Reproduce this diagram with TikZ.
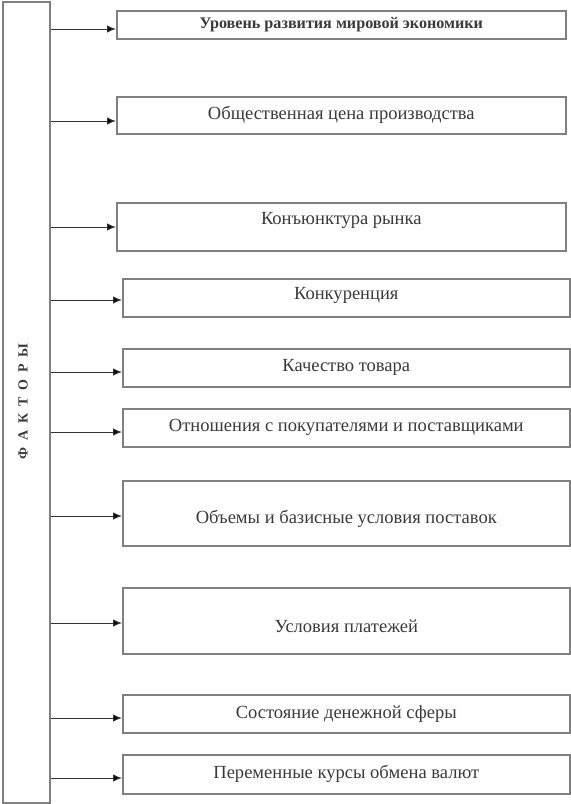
\documentclass[tikz,border=0pt]{standalone}
\usepackage{fontspec}
\setmainfont{Liberation Serif}
\usetikzlibrary{arrows.meta,calc}
\definecolor{linegray}{HTML}{808080}
\definecolor{txtgray}{HTML}{3A3A3A}
\newcommand{\shiftedtext}[2]{\raisebox{#1}[\height][\depth]{#2}}
\tikzset{
  fbox/.style={draw=linegray, line width=1.6pt, rectangle, inner sep=0pt, text=txtgray,
    font=\fontsize{18.6}{20}\selectfont, anchor=north west},
  arr/.style={draw=black!80, line width=1pt, -{Latex[length=9pt,width=7.5pt,fill=black]}},
}
\begin{document}
\begin{tikzpicture}[x=1bp,y=-1bp]
\useasboundingbox (0,0) rectangle (571,804);
\fill[white] (0,0) rectangle (571,804);
\node[draw=linegray, line width=1.6pt, rectangle, inner sep=0pt, minimum width=47bp, minimum height=801bp, anchor=north west] (L) at (2,1) {};
\node[rotate=90, text=txtgray, font=\bfseries\fontsize{14}{16}\selectfont] (Ltxt) at (23,401.5) {Ф\ \ А\ \ К\ \ Т\ \ О\ \ Р\ \ Ы};
% boxes
\node[fbox, minimum width=449bp, minimum height=28bp, font=\bfseries\fontsize{16.2}{18}\selectfont] (b1) at (116,10) {Уровень развития мировой экономики};
\node[fbox, minimum width=449bp, minimum height=37bp] (b2) at (116,96) {Общественная цена производства};
\node[fbox, minimum width=449bp, minimum height=48bp] (b3) at (116,202) {\shiftedtext{6bp}{Конъюнктура рынка}};
\node[fbox, minimum width=447bp, minimum height=38bp] (b4) at (122,278) {\shiftedtext{2bp}{Конкуренция}};
\node[fbox, minimum width=447bp, minimum height=38bp] (b5) at (122,348) {Качество товара};
\node[fbox, minimum width=447bp, minimum height=38bp] (b6) at (122,408) {Отношения с покупателями и поставщиками};
\node[fbox, minimum width=447bp, minimum height=65bp] (b7) at (122,480) {\shiftedtext{-6bp}{Объемы и базисные условия поставок}};
\node[fbox, minimum width=447bp, minimum height=66bp] (b8) at (122,587) {\shiftedtext{-5bp}{Условия платежей}};
\node[fbox, minimum width=447bp, minimum height=38bp] (b9) at (122,694) {Состояние денежной сферы};
\node[fbox, minimum width=447bp, minimum height=39bp] (b10) at (122,754) {Переменные курсы обмена валют};
% arrows
\foreach \b/\y in {b1/29,b2/121,b3/227,b4/300,b5/372,b6/432,b7/516,b8/623,b9/718,b10/778}{
  \draw[arr] (L.east |- 0,\y) -- (\b.west |- 0,\y);
}
\end{tikzpicture}
\end{document}
